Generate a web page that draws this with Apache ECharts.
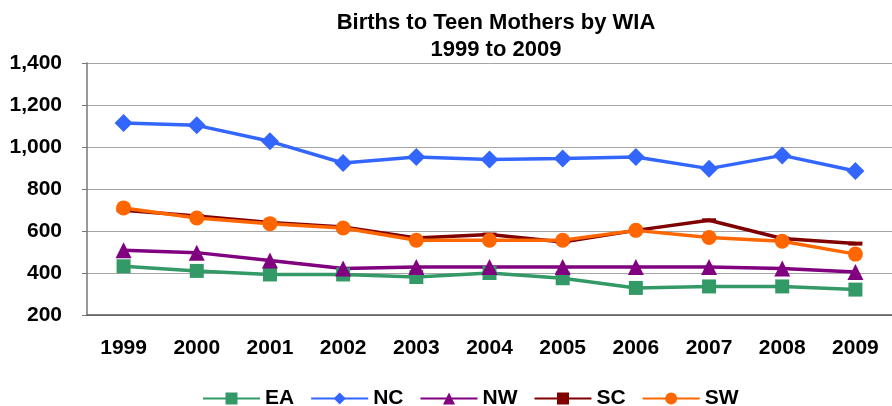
<!DOCTYPE html>
<html>
<head>
<meta charset="utf-8">
<script src="https://cdn.jsdelivr.net/npm/echarts@6/dist/echarts.min.js"></script>
<style>
  html, body { margin: 0; padding: 0; background: #fff; }
  #chart { width: 892px; height: 406px; }
</style>
</head>
<body>
<div id="chart"></div>
<script>
// Births to teen mothers, by Workforce Investment Area, 1999-2009
const years = ['1999', '2000', '2001', '2002', '2003', '2004', '2005', '2006', '2007', '2008', '2009'];
const EA = [432, 410, 393, 393, 381, 400, 375, 329, 336, 336, 321];
const NC = [1114, 1103, 1027, 924, 952, 941, 945, 952, 897, 960, 886];
const NW = [508, 497, 460, 421, 429, 429, 429, 429, 429, 421, 405];
const SC = [699, 671, 640, 619, 567, 583, 548, 603, 651, 564, 540];
const SW = [710, 662, 635, 614, 556, 556, 556, 603, 569, 551, 490];
const yTicks = { min: 200, max: 1400, step: 200 };

const FONT = '"Liberation Sans", Arial, Helvetica, sans-serif';
const chart = echarts.init(document.getElementById('chart'), null, { renderer: 'canvas' });

function line(name, data, color, symbol, size) {
  return {
    name, type: 'line', data,
    symbol, symbolSize: size,
    lineStyle: { color, width: 3.5 },
    itemStyle: { color },
    emphasis: { disabled: true },
    animation: false
  };
}

chart.setOption({
  animation: false,
  title: {
    text: 'Births to Teen Mothers by WIA\n1999 to 2009',
    left: 491, top: 4, textAlign: 'center',
    textStyle: { fontFamily: FONT, fontWeight: 'bold', fontSize: 22, lineHeight: 27, color: '#000' }
  },
  legend: {
    left: 197, top: 383,
    itemWidth: 57, itemHeight: 15, itemGap: 16,
    textStyle: { fontFamily: FONT, fontWeight: 'bold', fontSize: 21, color: '#000' },
    data: ['EA', 'NC', 'NW', 'SC', 'SW']
  },
  grid: { left: 87, top: 63, width: 814, height: 252, containLabel: false },
  xAxis: {
    type: 'category', data: years, boundaryGap: true,
    axisLine: { lineStyle: { color: '#555', width: 1.5 } },
    axisTick: { show: false },
    axisLabel: { fontFamily: FONT, fontWeight: 'bold', fontSize: 21, color: '#000', margin: 23 }
  },
  yAxis: {
    type: 'value', min: yTicks.min, max: yTicks.max, interval: yTicks.step,
    axisLine: { show: true, lineStyle: { color: '#777', width: 1.5 } },
    axisTick: { show: true, length: 5, lineStyle: { color: '#777' } },
    splitLine: { lineStyle: { color: '#a6a6a6', width: 1 } },
    axisLabel: {
      fontFamily: FONT, fontWeight: 'bold', fontSize: 21, color: '#000', margin: 25,
      formatter: v => v.toLocaleString('en-US')
    }
  },
  series: [
    line('EA', EA, '#339966', 'rect', 14),
    line('NC', NC, '#3366FF', 'diamond', 18),
    line('NW', NW, '#800080', 'triangle', 16),
    line('SC', SC, '#800000', 'rect', [14, 4]),
    line('SW', SW, '#FF6600', 'circle', 15)
  ]
});
</script>
</body>
</html>
